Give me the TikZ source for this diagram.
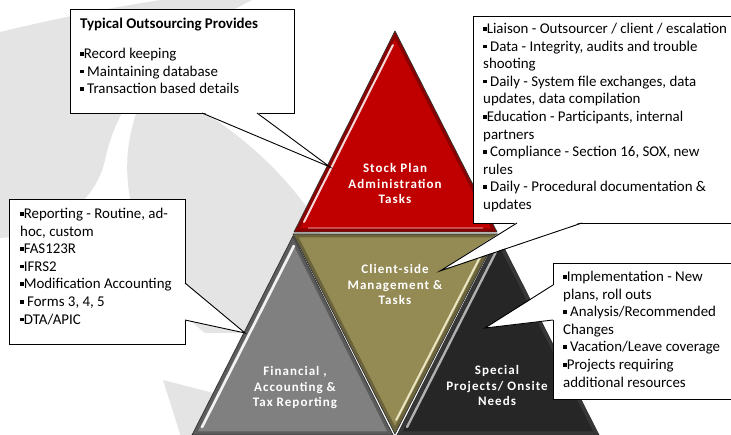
\documentclass[tikz,border=0pt]{standalone}
\usepackage{fontspec}
\setmainfont{Carlito}
\usetikzlibrary{calc}
\definecolor{swoosh}{HTML}{E4E4E4}
\definecolor{redtri}{HTML}{C00000}
\definecolor{olivetri}{HTML}{948A54}
\definecolor{graytri}{HTML}{808080}
\definecolor{darktri}{HTML}{262626}
\definecolor{cream}{HTML}{F4F0D0}
\newcommand\bul{\raisebox{0.42ex}{\rule{3.6pt}{3.6pt}}}

\begin{document}
\begin{tikzpicture}[x=1pt,y=-1pt,
  box/.style={draw=black, fill=white, line width=0.9pt, anchor=north west, inner sep=0pt, outer sep=0pt},
  tail/.style={draw=black, line width=0.9pt, line join=miter},
  boxtext/.style={anchor=base west, inner sep=0pt, font=\fontsize{14.9}{17.6}\selectfont},
  trilabel/.style={anchor=base, inner sep=0pt, text=white,
    font=\fontsize{13}{15.3}\selectfont\bfseries\addfontfeatures{LetterSpace=8}},
  edge/.style={draw=black!80, line width=0.7pt, line join=round},
  rim/.style={line width=7pt, black, opacity=0.28},
  glint/.style={line width=2pt, line cap=round}
]
\useasboundingbox (0,0) rectangle (731,435);
\clip (0,0) rectangle (731,435);
\fill[white] (0,0) rectangle (731,435);

% soft grey swooshes behind the pyramid
\fill[swoosh] (0,32) .. controls (70,15) and (150,0) .. (200,-5) -- (262,-5)
  .. controls (170,40) and (120,90) .. (105,160)
  .. controls (98,195) and (60,235) .. (0,238) -- cycle;
\fill[swoosh] (230,10) .. controls (170,40) and (135,90) .. (128,150)
  .. controls (122,210) and (150,290) .. (205,333) -- (320,333) -- (320,215) -- (306,206)
  .. controls (275,165) and (240,135) .. (205,113)
  .. controls (185,95) and (200,40) .. (230,10) -- cycle;
\fill[swoosh] (163,380) -- (225,396) -- (215,440) -- (182,440) -- cycle;

% pyramid corners
\coordinate (ra) at (395,31);  \coordinate (rl) at (294,232); \coordinate (rr) at (497,232);
\coordinate (ol) at (293,234); \coordinate (oR) at (498,234); \coordinate (ob) at (395,434);
\coordinate (ga) at (293,236); \coordinate (gl) at (192,435); \coordinate (gr) at (393,435);
\coordinate (da) at (498,236); \coordinate (dl) at (397,435); \coordinate (dr) at (599,435);

% red: stock plan administration
\fill[redtri] (ra) -- (rl) -- (rr) -- cycle;
\begin{scope}
  \clip (ra) -- (rl) -- (rr) -- cycle;
  \draw[rim] (ra) -- (rl) -- (rr) -- cycle;
\end{scope}
\draw[glint, white, opacity=.85] ($(ra)!0.07!(rl)+(5,0)$) -- ($(rl)!0.05!(ra)+(5,0)$);
\draw[white, opacity=.3, line width=1.5pt] ($(rl)+(14,-4)$) -- ($(rr)+(-14,-4)$);
\draw[edge] (ra) -- (rl) -- (rr) -- cycle;

% olive: client-side management
\fill[olivetri] (ol) -- (oR) -- (ob) -- cycle;
\begin{scope}
  \clip (ol) -- (oR) -- (ob) -- cycle;
  \draw[rim] (ol) -- (oR) -- (ob) -- cycle;
\end{scope}
\draw[glint, cream, opacity=.9] ($(oR)!0.06!(ob)+(-6,0)$) -- ($(ob)!0.07!(oR)+(-6,0)$);
\draw[edge] (ol) -- (oR) -- (ob) -- cycle;

% grey: financial reporting
\fill[graytri] (ga) -- (gl) -- (gr) -- cycle;
\begin{scope}
  \clip (ga) -- (gl) -- (gr) -- cycle;
  \draw[rim] (ga) -- (gl) -- (gr) -- cycle;
\end{scope}
\draw[glint, white, line width=2.6pt, opacity=.9] ($(ga)!0.05!(gl)+(6,0)$) -- ($(gl)!0.04!(ga)+(6,0)$);
\draw[edge] (ga) -- (gl) -- (gr) -- cycle;

% dark: special projects
\fill[darktri] (da) -- (dl) -- (dr) -- cycle;
\begin{scope}
  \clip (da) -- (dl) -- (dr) -- cycle;
  \draw[rim, white, opacity=.08] (da) -- (dl) -- (dr) -- cycle;
\end{scope}
\draw[glint, white!75!black, line width=2.4pt, opacity=.9] ($(da)!0.06!(dl)+(6,0)$) -- ($(dl)!0.04!(da)+(6,0)$);
\draw[edge] (da) -- (dl) -- (dr) -- cycle;

% pyramid labels
\node[trilabel] (lred) at (395,173) {\parbox[t]{130pt}{\centering Stock Plan\\Administration\\Tasks}};
\node[trilabel] (lolive) at (395,274) {\parbox[t]{130pt}{\centering Client-side\\Management \&\\Tasks}};
\node[trilabel] (lgray) at (295,376) {\parbox[t]{130pt}{\centering Financial ,\\Accounting \&\\Tax Reporting}};
\node[trilabel] (ldark) at (497,375) {\parbox[t]{130pt}{\centering Special\\Projects/ Onsite\\Needs}};

% callout tips on the pyramid
\coordinate (tip1) at (330,167);
\coordinate (tip2) at (440,271);
\coordinate (tip3) at (245,333);
\coordinate (tip4) at (485,328);

% callout 1: typical outsourcing
\node[box, minimum width=224pt, minimum height=104pt] (b1) at (70,9) {};
\fill[white] ($(b1.south west)+(132,-1)$) -- (tip1) -- ($(b1.south west)+(187,-1)$) -- cycle;
\draw[tail] ($(b1.south west)+(132,0)$) -- (tip1) -- ($(b1.south west)+(187,0)$);
\node[boxtext] (t1) at (80,28.5) {\parbox[t]{220pt}{\raggedright
  \textbf{Typical Outsourcing Provides}\\[12.4pt]
  \bul Record keeping\\
  \bul\ Maintaining database\\
  \bul\ Transaction based details}};

% callout 2: client-side management
\node[box, minimum width=272pt, minimum height=207pt] (b2) at (473,16) {};
\fill[white] ($(b2.south west)+(44,-1)$) -- (tip2) -- ($(b2.south west)+(109,-1)$) -- cycle;
\draw[tail] ($(b2.south west)+(44,0)$) -- (tip2) -- ($(b2.south west)+(109,0)$);
\node[boxtext] (t2) at (483,33.5) {\parbox[t]{260pt}{\raggedright
  \bul Liaison - Outsourcer / client / escalation\\
  \bul\ Data - Integrity, audits and trouble\\
  shooting\\
  \bul\ Daily - System file exchanges, data\\
  updates, data compilation\\
  \bul Education - Participants, internal\\
  partners\\
  \bul\ Compliance - Section 16, SOX, new\\
  rules\\
  \bul\ Daily - Procedural documentation \&\\
  updates}};

% callout 3: financial reporting
\node[box, minimum width=176pt, minimum height=145pt] (b3) at (9,199) {};
\fill[white] ($(b3.north east)+(-1,84)$) -- (tip3) -- ($(b3.north east)+(-1,121)$) -- cycle;
\draw[tail] ($(b3.north east)+(0,84)$) -- (tip3) -- ($(b3.north east)+(0,121)$);
\node[boxtext] (t3) at (20,218.5) {\parbox[t]{170pt}{\raggedright
  \bul Reporting - Routine, ad-\\
  hoc, custom\\
  \bul FAS123R\\
  \bul IFRS2\\
  \bul Modification Accounting\\
  \bul\ Forms 3, 4, 5\\
  \bul DTA/APIC}};

% callout 4: special projects
\node[box, minimum width=192pt, minimum height=136pt] (b4) at (553,263) {};
\fill[white] ($(b4.north west)+(1,22)$) -- (tip4) -- ($(b4.north west)+(1,57)$) -- cycle;
\draw[tail] ($(b4.north west)+(0,22)$) -- (tip4) -- ($(b4.north west)+(0,57)$);
\node[boxtext] (t4) at (563,281.5) {\parbox[t]{180pt}{\raggedright
  \bul Implementation - New\\
  plans, roll outs\\
  \bul\ Analysis/Recommended\\
  Changes\\
  \bul\ Vacation/Leave coverage\\
  \bul Projects requiring\\
  additional resources}};
\end{tikzpicture}
\end{document}
